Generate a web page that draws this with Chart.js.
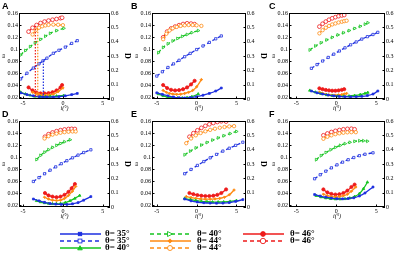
<!DOCTYPE html>
<html>
<head>
<meta charset="utf-8">
<script src="https://cdn.jsdelivr.net/npm/chart.js@4.4.1/dist/chart.umd.min.js"></script>
<style>
html, body { margin: 0; padding: 0; background: #fff; overflow: hidden; }
#wrap { position: relative; width: 400px; height: 253px; overflow: hidden; }
canvas { position: absolute; }
.lab { position: absolute; font: bold 9px Arial, 'Liberation Sans', sans-serif; color: #000; }
.leg { position: absolute; height: 8px; }
.leg svg { position: absolute; left: 0; top: 0; }
.leg span { position: absolute; top: -1px; font: bold 9px 'Liberation Serif', serif; line-height: 9px; white-space: nowrap; color: #000; }
</style>
</head>
<body>
<div id="wrap"></div>
<script>
// tick labels
const X_TICKS = [-5, 0, 5];
const W_TICKS = [0.02, 0.04, 0.06, 0.08, 0.1, 0.12, 0.14, 0.16];
const D_TICKS = [0, 0.1, 0.2, 0.3, 0.4, 0.5, 0.6];

// panel A
const A_i35 = [-5.3, -4.5, -3.7, -3, -2.5, -2, -1.2, -0.5, 0.3, 1.1, 1.8];
const A_w35 = [0.027, 0.024, 0.022, 0.0207, 0.0202, 0.02, 0.02, 0.0205, 0.022, 0.024, 0.026];
const A_D35 = [0.14, 0.18, 0.216, 0.245, 0.266, 0.285, 0.319, 0.34, 0.362, 0.388, 0.407];
const A_i40 = [-5.3, -4.7, -4.1, -3.5, -2.8, -2.2, -1.6, -0.8, 0.1];
const A_w40 = [0.028, 0.025, 0.0228, 0.021, 0.0205, 0.0205, 0.021, 0.0215, 0.0225];
const A_D40 = [0.307, 0.338, 0.365, 0.392, 0.416, 0.438, 0.458, 0.477, 0.493];
const A_i44 = [-3.8, -3.4, -3, -2.6, -2.2, -1.8, -1.2, -0.6, 0];
const A_w44 = [0.028, 0.026, 0.0245, 0.0235, 0.023, 0.0235, 0.025, 0.029, 0.035];
const A_D44 = [0.45, 0.48, 0.497, 0.507, 0.513, 0.517, 0.519, 0.518, 0.515];
const A_i46 = [-4.3, -3.8, -3.3, -2.8, -2.3, -1.8, -1.3, -0.8, -0.3, -0.1];
const A_w46 = [0.036, 0.031, 0.0275, 0.026, 0.026, 0.0265, 0.028, 0.031, 0.036, 0.04];
const A_D46 = [0.47, 0.497, 0.516, 0.53, 0.54, 0.547, 0.553, 0.558, 0.564, 0.567];
// dotted guide lines in A
const A_gx = [-3.45, -3.15, -2.45];
const A_gtop = [0.51, 0.49, 0.268];
const A_gbot = [0.008, 0.008, 0.008];

// panel B
const B_i35 = [-5, -4.3, -3.6, -2.9, -2.2, -1.5, -0.8, 0, 0.8, 1.6, 2.4, 3.1];
const B_w35 = [0.027, 0.0245, 0.022, 0.02, 0.0188, 0.0185, 0.019, 0.0205, 0.023, 0.026, 0.03, 0.035];
const B_D35 = [0.16, 0.19, 0.22, 0.245, 0.27, 0.295, 0.318, 0.345, 0.37, 0.395, 0.42, 0.44];
const B_i40 = [-4.8, -4.2, -3.6, -3, -2.4, -1.8, -1.2, -0.6, 0.2];
const B_w40 = [0.025, 0.022, 0.02, 0.019, 0.0185, 0.0185, 0.019, 0.0205, 0.025];
const B_D40 = [0.323, 0.36, 0.385, 0.405, 0.422, 0.437, 0.45, 0.463, 0.477];
const B_i44 = [-4.2, -3.8, -3.4, -3, -2.5, -2, -1.5, -1, -0.5, 0, 0.6];
const B_w44 = [0.031, 0.028, 0.026, 0.025, 0.0245, 0.0248, 0.026, 0.028, 0.031, 0.037, 0.049];
const B_D44 = [0.417, 0.455, 0.478, 0.493, 0.503, 0.51, 0.514, 0.516, 0.516, 0.514, 0.51];
const B_i46 = [-4.2, -3.7, -3.2, -2.7, -2.2, -1.7, -1.2, -0.7, -0.25];
const B_w46 = [0.04, 0.035, 0.032, 0.031, 0.0315, 0.033, 0.036, 0.041, 0.047];
const B_D46 = [0.43, 0.47, 0.492, 0.505, 0.515, 0.523, 0.528, 0.526, 0.522];

// panel C
const C_i35 = [-3.1, -2.4, -1.7, -1, -0.3, 0.4, 1.1, 1.8, 2.5, 3.2, 3.9, 4.6, 5.2];
const C_w35 = [0.03, 0.027, 0.025, 0.0232, 0.022, 0.021, 0.0205, 0.0203, 0.0205, 0.0212, 0.0225, 0.025, 0.03];
const C_D35 = [0.214, 0.24, 0.265, 0.29, 0.313, 0.335, 0.357, 0.378, 0.398, 0.418, 0.435, 0.45, 0.465];
const C_i40 = [-3.3, -2.6, -1.9, -1.2, -0.5, 0.2, 0.9, 1.6, 2.3, 3, 3.6, 3.95];
const C_w40 = [0.031, 0.028, 0.0255, 0.0235, 0.0222, 0.0215, 0.0212, 0.0215, 0.0225, 0.024, 0.026, 0.0275];
const C_D40 = [0.342, 0.37, 0.392, 0.412, 0.43, 0.447, 0.462, 0.477, 0.492, 0.507, 0.522, 0.532];
const C_i44 = [-2.1, -1.7, -1.3, -0.9, -0.5, -0.1, 0.3, 0.7, 1, 1.3];
const C_w44 = [0.028, 0.026, 0.0245, 0.0235, 0.023, 0.023, 0.0235, 0.024, 0.025, 0.026];
const C_D44 = [0.458, 0.48, 0.497, 0.51, 0.52, 0.527, 0.534, 0.539, 0.543, 0.546];
const C_i46 = [-2.1, -1.7, -1.3, -0.9, -0.5, -0.1, 0.3, 0.7, 1];
const C_w46 = [0.0345, 0.033, 0.0318, 0.031, 0.0305, 0.0305, 0.031, 0.032, 0.033];
const C_D46 = [0.505, 0.525, 0.54, 0.553, 0.563, 0.571, 0.578, 0.583, 0.586];

// panel D
const D_i35 = [-3.7, -3, -2.3, -1.6, -0.9, -0.2, 0.5, 1.2, 1.9, 2.6, 3.5];
const D_w35 = [0.03, 0.027, 0.0245, 0.0225, 0.0215, 0.021, 0.021, 0.022, 0.024, 0.028, 0.034];
const D_D35 = [0.178, 0.205, 0.232, 0.257, 0.28, 0.302, 0.323, 0.343, 0.362, 0.38, 0.399];
const D_i40w = [-3.3, -2.8, -2.3, -1.8, -1.3, -0.8, -0.3, 0.3, 0.9, 1.5, 2.1];
const D_w40 = [0.027, 0.025, 0.0235, 0.0225, 0.022, 0.022, 0.0225, 0.024, 0.027, 0.031, 0.0358];
const D_i40d = [-3.3, -2.8, -2.3, -1.8, -1.3, -0.8, -0.3, 0.2, 0.9];
const D_D40 = [0.331, 0.36, 0.382, 0.4, 0.416, 0.43, 0.443, 0.455, 0.469];
const D_i44 = [-2.3, -1.8, -1.3, -0.8, -0.3, 0.2, 0.7, 1.2, 1.6];
const D_w44 = [0.033, 0.03, 0.028, 0.0275, 0.028, 0.031, 0.036, 0.043, 0.051];
const D_D44 = [0.478, 0.494, 0.505, 0.512, 0.518, 0.522, 0.525, 0.527, 0.527];
const D_i46 = [-2.25, -1.8, -1.3, -0.8, -0.3, 0.2, 0.7, 1.1, 1.5];
const D_w46 = [0.04, 0.036, 0.034, 0.033, 0.034, 0.037, 0.042, 0.048, 0.055];
const D_D46 = [0.49, 0.508, 0.52, 0.529, 0.536, 0.541, 0.544, 0.545, 0.544];

// panel E
const E_i35 = [-1.5, -0.7, 0.1, 0.9, 1.7, 2.5, 3.3, 4.1, 4.9, 5.8];
const E_w35 = [0.03, 0.027, 0.025, 0.0238, 0.0232, 0.023, 0.0232, 0.024, 0.026, 0.029];
const E_D35 = [0.232, 0.262, 0.29, 0.317, 0.343, 0.367, 0.39, 0.41, 0.43, 0.452];
const E_i40 = [-1.5, -0.8, -0.1, 0.6, 1.3, 2, 2.7, 3.4, 4.2, 5];
const E_w40 = [0.031, 0.029, 0.0275, 0.0262, 0.0255, 0.025, 0.025, 0.0252, 0.026, 0.0275];
const E_D40 = [0.364, 0.39, 0.412, 0.432, 0.45, 0.467, 0.482, 0.497, 0.512, 0.527];
const E_i44 = [-1.3, -0.7, -0.1, 0.5, 1.1, 1.7, 2.3, 2.9, 3.5, 4.1, 4.7];
const E_w44 = [0.034, 0.0325, 0.031, 0.0302, 0.0298, 0.0298, 0.0302, 0.031, 0.033, 0.037, 0.045];
const E_D44 = [0.445, 0.478, 0.5, 0.516, 0.528, 0.538, 0.546, 0.553, 0.558, 0.562, 0.564];
const E_i46 = [-0.9, -0.4, 0.1, 0.6, 1.1, 1.6, 2.1, 2.6, 3.1, 3.7];
const E_w46 = [0.04, 0.038, 0.0365, 0.0355, 0.035, 0.035, 0.0355, 0.037, 0.04, 0.046];
const E_D46 = [0.49, 0.515, 0.535, 0.552, 0.566, 0.577, 0.586, 0.593, 0.598, 0.596];

// panel F
const F_i35 = [-2.7, -2, -1.3, -0.6, 0.1, 0.8, 1.5, 2.2, 2.9, 3.6, 4.6];
const F_w35 = [0.0375, 0.035, 0.033, 0.0315, 0.0305, 0.0303, 0.0308, 0.032, 0.035, 0.04, 0.05];
const F_D35 = [0.197, 0.225, 0.25, 0.273, 0.294, 0.313, 0.33, 0.345, 0.358, 0.368, 0.378];
const F_i40 = [-2.5, -1.9, -1.3, -0.7, -0.1, 0.5, 1.1, 1.7, 2.3, 2.9, 3.4, 3.9];
const F_w40 = [0.0355, 0.0333, 0.0316, 0.0305, 0.0299, 0.0298, 0.0303, 0.0315, 0.034, 0.039, 0.047, 0.058];
const F_D40 = [0.33, 0.358, 0.38, 0.399, 0.416, 0.43, 0.442, 0.451, 0.458, 0.462, 0.462, 0.459];
const F_i44 = [-1.6, -1.1, -0.6, -0.1, 0.4, 0.9, 1.4, 1.9, 2.45];
const F_w44 = [0.038, 0.0355, 0.034, 0.0335, 0.034, 0.0355, 0.038, 0.043, 0.05];
const F_D44 = [0.476, 0.49, 0.5, 0.508, 0.514, 0.518, 0.521, 0.522, 0.522];
const F_i46 = [-1.6, -1.1, -0.6, -0.1, 0.4, 0.9, 1.4, 1.9, 2.3];
const F_w46 = [0.046, 0.041, 0.0385, 0.0375, 0.038, 0.04, 0.044, 0.05, 0.054];
const F_D46 = [0.5, 0.513, 0.523, 0.531, 0.537, 0.542, 0.545, 0.546, 0.542];

const SERIF = "'Liberation Serif', 'DejaVu Serif', serif";
const BLUE = '#1d2fe0', GREEN = '#14c41f', ORANGE = '#ff8a12', RED = '#ee1b1b';
const DASH = [3.5, 2.5];

const STY = {
  w35: { c: BLUE, dash: [], ps: 'rect', fill: true, r: 1.3 },
  D35: { c: BLUE, dash: DASH, ps: 'rect', fill: false, r: 1.6 },
  w40: { c: GREEN, dash: [], ps: 'triangle', fill: true, r: 1.5 },
  D40: { c: GREEN, dash: DASH, ps: 'triangle', rot: 90, fill: false, r: 1.7 },
  w44: { c: ORANGE, dash: [], ps: 'rectRot', fill: true, r: 1.3 },
  D44: { c: ORANGE, dash: DASH, ps: 'circle', fill: false, r: 1.7 },
  w46: { c: RED, dash: [], ps: 'circle', fill: true, r: 1.6 },
  D46: { c: RED, dash: DASH, ps: 'circle', fill: false, r: 1.9 },
};

const COLS = [
  { left: 0, ca: 91, xmin: -5.5, xmax: 5.9 },
  { left: 133, ca: 94, xmin: -5.6, xmax: 6.2 },
  { left: 270, ca: 96, xmin: -5.9, xmax: 6.1 },
];
const ROWS = [0, 108];

const PANELS = [
  { id: 'A', col: 0, row: 0, lx: 2, s: [[A_i35, A_w35, 'w35'], [A_i35, A_D35, 'D35'], [A_i40, A_w40, 'w40'], [A_i40, A_D40, 'D40'], [A_i44, A_w44, 'w44'], [A_i44, A_D44, 'D44'], [A_i46, A_w46, 'w46'], [A_i46, A_D46, 'D46']], guides: true },
  { id: 'B', col: 1, row: 0, lx: 131, s: [[B_i35, B_w35, 'w35'], [B_i35, B_D35, 'D35'], [B_i40, B_w40, 'w40'], [B_i40, B_D40, 'D40'], [B_i44, B_w44, 'w44'], [B_i44, B_D44, 'D44'], [B_i46, B_w46, 'w46'], [B_i46, B_D46, 'D46']] },
  { id: 'C', col: 2, row: 0, lx: 269, s: [[C_i35, C_w35, 'w35'], [C_i35, C_D35, 'D35'], [C_i40, C_w40, 'w40'], [C_i40, C_D40, 'D40'], [C_i44, C_w44, 'w44'], [C_i44, C_D44, 'D44'], [C_i46, C_w46, 'w46'], [C_i46, C_D46, 'D46']] },
  { id: 'D', col: 0, row: 1, lx: 2, s: [[D_i35, D_w35, 'w35'], [D_i35, D_D35, 'D35'], [D_i40w, D_w40, 'w40'], [D_i40d, D_D40, 'D40'], [D_i44, D_w44, 'w44'], [D_i44, D_D44, 'D44'], [D_i46, D_w46, 'w46'], [D_i46, D_D46, 'D46']] },
  { id: 'E', col: 1, row: 1, lx: 131, s: [[E_i35, E_w35, 'w35'], [E_i35, E_D35, 'D35'], [E_i40, E_w40, 'w40'], [E_i40, E_D40, 'D40'], [E_i44, E_w44, 'w44'], [E_i44, E_D44, 'D44'], [E_i46, E_w46, 'w46'], [E_i46, E_D46, 'D46']] },
  { id: 'F', col: 2, row: 1, lx: 269, s: [[F_i35, F_w35, 'w35'], [F_i35, F_D35, 'D35'], [F_i40, F_w40, 'w40'], [F_i40, F_D40, 'D40'], [F_i44, F_w44, 'w44'], [F_i44, F_D44, 'D44'], [F_i46, F_w46, 'w46'], [F_i46, F_D46, 'D46']] },
];

function dataset(xs, ys, key) {
  const s = STY[key];
  return {
    data: xs.map((x, k) => ({ x: x, y: ys[k] })),
    yAxisID: key[0] === 'w' ? 'y' : 'y1',
    showLine: true,
    borderColor: s.c,
    borderWidth: 1.3,
    borderDash: s.dash,
    tension: 0.35,
    pointStyle: s.ps,
    rotation: s.rot || 0,
    pointRadius: s.r,
    pointBorderWidth: 0.8,
    pointBorderColor: s.c,
    pointBackgroundColor: s.fill ? s.c : '#fff',
  };
}

function guideSets() {
  const cols = [RED, ORANGE, BLUE];
  return A_gx.map((x, k) => ({
    data: [{ x: x, y: A_gtop[k] }, { x: x, y: A_gbot[k] }],
    yAxisID: 'y1', showLine: true, borderColor: cols[k], borderWidth: 1.2,
    borderDash: [1.5, 1.5], pointRadius: 0,
  }));
}

// black box round the plot area plus small inward ticks
const framePlugin = {
  id: 'frame',
  afterDraw(chart) {
    const { ctx, chartArea: a } = chart;
    ctx.save();
    ctx.strokeStyle = '#000';
    ctx.lineWidth = 1;
    ctx.strokeRect(Math.round(a.left) + 0.5, Math.round(a.top) + 0.5, Math.round(a.right - a.left) - 1, Math.round(a.bottom - a.top) - 1);
    ctx.beginPath();
    const sx = chart.scales.x, sy = chart.scales.y, sd = chart.scales.y1;
    X_TICKS.forEach(v => { const p = Math.round(sx.getPixelForValue(v)) + 0.5; ctx.moveTo(p, a.bottom); ctx.lineTo(p, a.bottom - 2.5); });
    W_TICKS.forEach(v => { const p = Math.round(sy.getPixelForValue(v)) + 0.5; ctx.moveTo(a.left, p); ctx.lineTo(a.left + 2.5, p); });
    D_TICKS.forEach(v => { const p = Math.round(sd.getPixelForValue(v)) + 0.5; ctx.moveTo(a.right, p); ctx.lineTo(a.right - 2.5, p); });
    ctx.stroke();
    ctx.restore();
  }
};

function scalesFor(col) {
  const f = { family: SERIF, size: 6 };
  const base = { grid: { display: false, drawTicks: false }, border: { display: false } };
  return {
    x: Object.assign({}, base, {
      type: 'linear', position: 'bottom', min: col.xmin, max: col.xmax,
      afterBuildTicks: s => { s.ticks = X_TICKS.map(v => ({ value: v })); },
      afterFit: s => { s.height = 13; },
      ticks: { font: f, color: '#000', padding: 1, maxRotation: 0, callback: v => String(v) },
      title: { display: true, text: 'i(°)', font: { family: SERIF, size: 6, style: 'italic' }, color: '#000', padding: 0 },
    }),
    y: Object.assign({}, base, {
      type: 'linear', position: 'left', min: 0.0167, max: 0.16,
      afterBuildTicks: s => { s.ticks = W_TICKS.map(v => ({ value: v })); },
      afterFit: s => { s.width = 19; },
      ticks: { font: f, color: '#000', padding: 1, callback: v => String(+v.toFixed(2)) },
      title: { display: true, text: 'ω', font: { family: SERIF, size: 6 }, color: '#000', padding: 0 },
    }),
    y1: Object.assign({}, base, {
      type: 'linear', position: 'right', min: 0, max: 0.6,
      afterBuildTicks: s => { s.ticks = D_TICKS.map(v => ({ value: v })); },
      afterFit: s => { s.width = 22; },
      ticks: { font: f, color: '#000', padding: 1, callback: v => String(+v.toFixed(1)) },
      title: { display: true, text: 'D', font: { family: SERIF, size: 8, weight: 'bold' }, color: '#000', padding: 0 },
    }),
  };
}

const wrap = document.getElementById('wrap');

PANELS.forEach(p => {
  const col = COLS[p.col];
  const cv = document.createElement('canvas');
  const w = 19 + col.ca + 22, h = 112;
  cv.width = w; cv.height = h;
  cv.style.left = col.left + 'px';
  cv.style.top = ROWS[p.row] + 'px';
  cv.style.width = w + 'px'; cv.style.height = h + 'px';
  wrap.appendChild(cv);

  let sets = p.s.map(t => dataset(t[0], t[1], t[2]));
  if (p.guides) sets = guideSets().concat(sets);

  new Chart(cv.getContext('2d'), {
    type: 'scatter',
    data: { datasets: sets },
    options: {
      responsive: false, animation: false, devicePixelRatio: 1,
      layout: { padding: { top: 13, left: 0, right: 0, bottom: 0 } },
      plugins: { legend: { display: false }, tooltip: { enabled: false } },
      scales: scalesFor(col),
    },
    plugins: [framePlugin],
  });

  const lab = document.createElement('div');
  lab.className = 'lab';
  lab.textContent = p.id;
  lab.style.left = p.lx + 'px';
  lab.style.top = (ROWS[p.row] + 1) + 'px';
  wrap.appendChild(lab);
});

// legend
const LEGEND = [
  ['w35', 'θ= 35°', 60, 234], ['D35', 'θ= 35°', 60, 241], ['w40', 'θ= 40°', 60, 247.5],
  ['D40', 'θ= 40°', 150, 234], ['w44', 'θ= 44°', 150, 241], ['D44', 'θ= 44°', 150, 247.5],
  ['w46', 'θ= 46°', 243, 234], ['D46', 'θ= 46°', 243, 241],
];

function markerSvg(s) {
  const fill = s.fill ? s.c : '#fff';
  const r = s.r + 0.8;
  const a = 'fill="' + fill + '" stroke="' + s.c + '" stroke-width="0.9"';
  if (s.ps === 'rect') return '<rect x="' + (20 - r * 0.8) + '" y="' + (4 - r * 0.8) + '" width="' + r * 1.6 + '" height="' + r * 1.6 + '" ' + a + '/>';
  if (s.ps === 'rectRot') return '<polygon points="20,' + (4 - r) + ' ' + (20 + r) + ',4 20,' + (4 + r) + ' ' + (20 - r) + ',4" ' + a + '/>';
  if (s.ps === 'triangle' && s.rot) return '<polygon points="' + (20 - r) + ',' + (4 - r) + ' ' + (20 + r) + ',4 ' + (20 - r) + ',' + (4 + r) + '" ' + a + '/>';
  if (s.ps === 'triangle') return '<polygon points="20,' + (4 - r) + ' ' + (20 + r) + ',' + (4 + r * 0.8) + ' ' + (20 - r) + ',' + (4 + r * 0.8) + '" ' + a + '/>';
  return '<circle cx="20" cy="4" r="' + r + '" ' + a + '/>';
}

LEGEND.forEach(([key, text, x, y]) => {
  const s = STY[key];
  const d = document.createElement('div');
  d.className = 'leg';
  d.style.left = x + 'px';
  d.style.top = (y - 4) + 'px';
  const dash = s.dash.length ? ' stroke-dasharray="4 3"' : '';
  d.innerHTML = '<svg width="41" height="8"><line x1="0" y1="4" x2="41" y2="4" stroke="' + s.c + '" stroke-width="1.3"' + dash + '/>' + markerSvg(s) + '</svg>' +
    '<span style="left:' + (x === 60 ? 45 : 47) + 'px">' + text + '</span>';
  wrap.appendChild(d);
});
</script>
</body>
</html>
